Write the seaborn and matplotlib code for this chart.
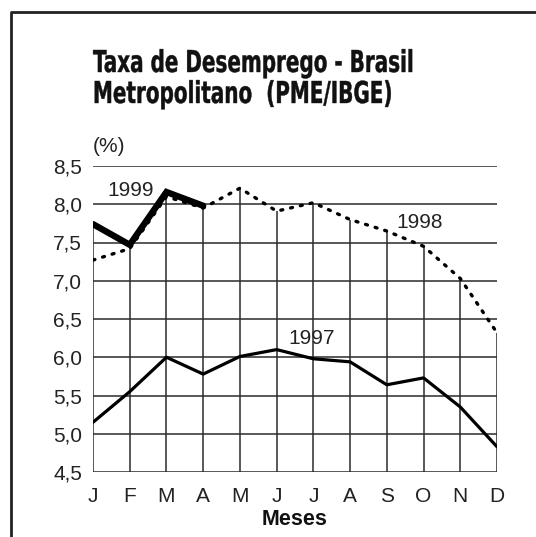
#taxa de desemprego - brasil metropolitano

import numpy as np
import matplotlib
matplotlib.use("Agg")
import matplotlib.pyplot as plt
import seaborn as sns
from matplotlib.textpath import TextPath
from matplotlib.patches import PathPatch
from matplotlib.font_manager import FontProperties
from matplotlib.transforms import Affine2D

months = ["J", "F", "M", "A", "M", "J", "J", "A", "S", "O", "N", "D"]
y_ticks = [4.5, 5.0, 5.5, 6.0, 6.5, 7.0, 7.5, 8.0, 8.5]

taxa_1997 = [5.15, 5.55, 6.0, 5.78, 6.01, 6.1, 5.98, 5.94, 5.64, 5.73, 5.35, 4.83]
taxa_1998 = [7.27, 7.42, 8.1, 7.95, 8.21, 7.91, 8.02, 7.8, 7.65, 7.45, 7.03, 6.32]
taxa_1999 = [7.74, 7.47, 8.16, 7.98]

title_lines = ["Taxa de Desemprego - Brasil", "Metropolitano  (PME/IBGE)"]

sns.set_theme(style="white")
plt.rcParams['font.family'] = ['Liberation Sans', 'DejaVu Sans']

x = np.arange(len(months))

fig = plt.figure(figsize=(5.36, 5.37), dpi=100)
ax = fig.add_axes([93/536, 1-472/537, (497-93)/536, (472-166)/537])

# grid: horizontal lines full width, vertical lines only up to the highest curve
grid_col = "#2b2b2b"
ax.hlines(y_ticks, 0, 11, color=grid_col, lw=1.1, zorder=1)
top = np.array(taxa_1998, dtype=float)
top[:len(taxa_1999)] = np.maximum(top[:len(taxa_1999)], taxa_1999)
ax.vlines(x, 4.5, top, color=grid_col, lw=1.1, zorder=1)

sns.lineplot(x=x, y=taxa_1997, ax=ax, color="black", lw=2.3, zorder=3)
l98 = sns.lineplot(x=x, y=taxa_1998, ax=ax, color="black", lw=2.4, zorder=3)
l98.lines[-1].set_linestyle((0, (0.6, 2.4)))
l98.lines[-1].set_dash_capstyle("round")
sns.lineplot(x=x[:len(taxa_1999)], y=taxa_1999, ax=ax, color="black", lw=4.6,
             zorder=4, solid_joinstyle="miter")

ax.set_xlim(0, 11)
ax.set_ylim(4.5, 8.5)
ax.set_xticks(x)
ax.set_xticklabels(months)
ax.set_yticks(y_ticks)
ax.set_yticklabels([f"{v:.1f}".replace(".", ",") for v in y_ticks])
ax.tick_params(axis="both", length=0, labelsize=15, colors="#222222")
ax.tick_params(axis="y", pad=8)
ax.tick_params(axis="x", pad=11)
for s in ax.spines.values():
    s.set_visible(False)
ax.set_xlabel("Meses", fontsize=15.5, fontweight="bold", labelpad=2, color="#111111")
ax.set_ylabel("")

ax.text(1.03, 8.18, "1999", fontsize=15, ha="center", va="center", color="#222222")
ax.text(8.88, 7.76, "1998", fontsize=15, ha="center", va="center", color="#222222")
ax.text(5.94, 6.25, "1997", fontsize=15, ha="center", va="center", color="#222222")
ax.text(0.0, 8.75, "(%)", fontsize=15, ha="left", va="center", color="#222222")

# title: condensed bold glyphs, squeezed to the width of the original
fp = FontProperties(family="DejaVu Sans", stretch="condensed", weight="bold")
cap = TextPath((0, 0), "T", size=1, prop=fp).get_extents().height
W, H = fig.bbox.width, fig.bbox.height
sx = None
for line, base_y in zip(title_lines, [72, 103]):
    tp = TextPath((0, 0), line, size=1, prop=fp)
    if sx is None:
        sx = 319 / tp.get_extents().width
    sy = 22 / cap
    tr = Affine2D().scale(sx, sy).translate(93, H - base_y)
    fig.add_artist(PathPatch(tr.transform_path(tp), facecolor="#111111",
                             edgecolor="#111111", lw=0.3,
                             transform=matplotlib.transforms.IdentityTransform()))

# frame around the figure
fig.add_artist(plt.Line2D([11/536, 11/536, 1.0], [0.0, 1-12/537, 1-12/537],
                          transform=fig.transFigure, color="#222222", lw=2))

fig.savefig("out.png", dpi=100)
